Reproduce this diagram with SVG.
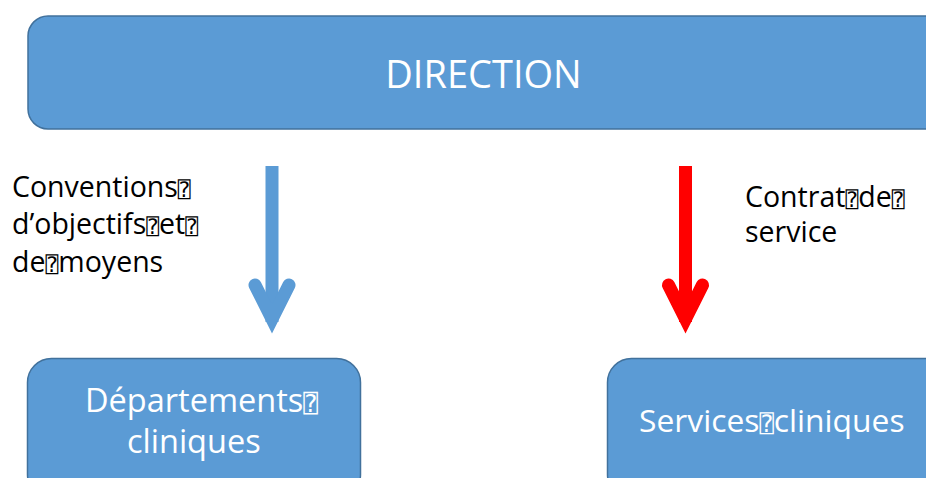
<svg xmlns="http://www.w3.org/2000/svg" width="926" height="478" viewBox="0 0 926 478">
<style>
.box{fill:#5B9BD5;stroke:#41719C;stroke-width:1.5}
.wt{fill:#FFFFFF;font-family:"Open Sans","Liberation Sans",sans-serif}
.lb{fill:#000000;font-family:"Open Sans","Liberation Sans",sans-serif;font-size:28.5px}
.tf{font-family:"DejaVu Sans Mono","DejaVu Sans",sans-serif;font-size:0.75em}
.shaft{fill:none;stroke-width:13}
.head{fill:none;stroke-width:13;stroke-linecap:round;stroke-linejoin:miter;stroke-miterlimit:10}
</style>
<rect width="926" height="478" fill="#FFFFFF"/>
<g id="direction">
<rect class="box" x="28" y="16" width="920" height="113" rx="20"/>
<text class="wt" x="483.5" y="88" font-size="38" text-anchor="middle">DIRECTION</text>
</g>
<g id="departements">
<rect class="box" x="27.5" y="358.5" width="333" height="140" rx="24"/>
<text class="wt" x="85" y="412" font-size="32.5">Départements<tspan class="tf">⍰</tspan></text>
<text class="wt" x="127" y="453" font-size="32.5">cliniques</text>
</g>
<g id="services">
<rect class="box" x="607.5" y="358.5" width="340" height="140" rx="24"/>
<text class="wt" x="639" y="432" font-size="31.8">Services<tspan class="tf">⍰</tspan>cliniques</text>
</g>
<g id="connectors">
<line class="shaft" x1="272" y1="166" x2="272" y2="322" stroke="#5B9BD5"/>
<polyline class="head" points="255,285 272,319 289,285" stroke="#5B9BD5"/>
<line class="shaft" x1="685.5" y1="166" x2="685.5" y2="322" stroke="#FF0000"/>
<polyline class="head" points="668.5,285 685.5,319 702.5,285" stroke="#FF0000"/>
</g>
<g id="label-left">
<text class="lb" x="12" y="197">Conventions<tspan class="tf">⍰</tspan></text>
<text class="lb" x="12" y="234">d’objectifs<tspan class="tf">⍰</tspan>et<tspan class="tf">⍰</tspan></text>
<text class="lb" x="12" y="272">de<tspan class="tf">⍰</tspan>moyens</text>
</g>
<g id="label-right">
<text class="lb" x="745" y="207">Contrat<tspan class="tf">⍰</tspan>de<tspan class="tf">⍰</tspan></text>
<text class="lb" x="745" y="242">service</text>
</g>
</svg>
